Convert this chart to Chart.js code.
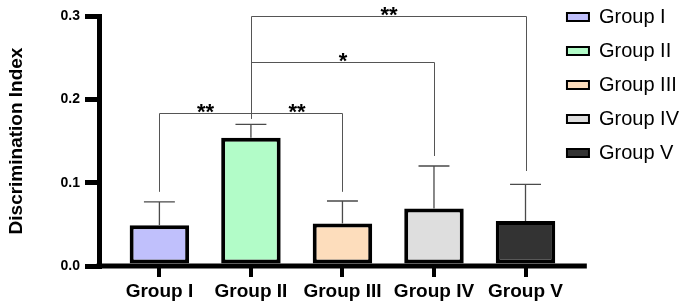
<!DOCTYPE html>
<html lang="en">
<head>
<meta charset="UTF-8">
<title>Discrimination Index</title>
<style>
    html, body { margin: 0; padding: 0; background: #fff; }
    canvas { display: block; }
</style>
</head>
<body>
<canvas id="chart" width="692" height="305"></canvas>

<script src="https://cdn.jsdelivr.net/npm/chart.js"></script>
<script>
    // values
    const groups = ['Group I', 'Group II', 'Group III', 'Group IV', 'Group V'];
    const means = [0.049, 0.154, 0.051, 0.069, 0.054];
    const sds = [0.028, 0.016, 0.027, 0.051, 0.044];
    const barColors = ['#c0c0fc', '#b2fcc8', '#fdddbc', '#dedede', '#333333'];
    const yTicks = [0, 0.1, 0.2, 0.3];

    // significance brackets: groups joined, bracket height, where each leg stops, mark
    const pairs = [[0, 1], [1, 2], [1, 3], [1, 4]];
    const pairLevels = [0.184, 0.184, 0.245, 0.30];
    const pairLegs = [[0.089, 0.177], [0.177, 0.089], [0.177, 0.132], [0.177, 0.114]];
    const pairMarks = ['**', '**', '*', '**'];

    const FONT = "'Liberation Sans', Arial, Helvetica, sans-serif";
    Chart.defaults.font.family = FONT;
    Chart.defaults.color = '#000';

    const crisp = v => Math.round(v) + 0.5;

    // error bars, brackets and the long x baseline
    const extras = {
        id: 'extras',
        afterDatasetsDraw(chart) {
            const { ctx, scales: { x, y } } = chart;
            const bars = chart.getDatasetMeta(0).data;
            ctx.save();

            // baseline runs on past the last bar, as in the original
            const y0 = y.getPixelForValue(0);
            ctx.strokeStyle = '#000';
            ctx.lineWidth = 5;
            ctx.beginPath();
            ctx.moveTo(x.left - 2.5, y0);
            ctx.lineTo(x.getPixelForValue(5.67), y0);
            ctx.stroke();

            // upper error bars
            ctx.strokeStyle = '#4a4a4a';
            ctx.lineWidth = 1.3;
            bars.forEach((bar, i) => {
                const top = y.getPixelForValue(means[i] + sds[i]);
                const half = bar.width * 0.26;
                ctx.beginPath();
                ctx.moveTo(bar.x, bar.y);
                ctx.lineTo(bar.x, top);
                ctx.moveTo(bar.x - half, top);
                ctx.lineTo(bar.x + half, top);
                ctx.stroke();
            });

            // brackets
            ctx.strokeStyle = '#555';
            ctx.lineWidth = 1;
            ctx.fillStyle = '#000';
            ctx.font = 'bold 22px ' + FONT;
            ctx.textAlign = 'center';
            ctx.textBaseline = 'alphabetic';
            pairs.forEach(([a, b], k) => {
                const xa = crisp(x.getPixelForValue(a + 1));
                const xb = crisp(x.getPixelForValue(b + 1));
                const yl = crisp(y.getPixelForValue(pairLevels[k]));
                ctx.beginPath();
                ctx.moveTo(xa, y.getPixelForValue(pairLegs[k][0]));
                ctx.lineTo(xa, yl);
                ctx.lineTo(xb, yl);
                ctx.lineTo(xb, y.getPixelForValue(pairLegs[k][1]));
                ctx.stroke();
                ctx.fillText(pairMarks[k], (xa + xb) / 2, yl + 5);
            });
            ctx.restore();
        }
    };

    const ctx = document.getElementById('chart').getContext('2d');
    new Chart(ctx, {
        type: 'bar',
        data: {
            datasets: [{
                data: groups.map((g, i) => ({ x: i + 1, y: means[i] })),
                backgroundColor: barColors,
                borderColor: '#000',
                borderWidth: 4,
                borderSkipped: false,
                categoryPercentage: 0.65,
                barPercentage: 1,
                clip: false
            }]
        },
        options: {
            responsive: false,
            animation: false,
            layout: { padding: { top: -7, right: 3, bottom: 0, left: 0 } },
            plugins: {
                // empty title only reserves the space above the plot
                title: { display: true, text: '', fullSize: false, padding: 0, font: { size: 23, lineHeight: 1 } },
                legend: {
                    position: 'right',
                    align: 'start',
                    labels: {
                        boxWidth: 22,
                        boxHeight: 8,
                        padding: 14,
                        color: '#000',
                        font: { size: 20 },
                        generateLabels: () => groups.map((g, i) => ({
                            text: g,
                            fillStyle: barColors[i],
                            strokeStyle: '#000',
                            lineWidth: 2,
                            fontColor: '#000',
                            hidden: false,
                            index: i
                        }))
                    }
                },
                tooltip: { enabled: false }
            },
            scales: {
                x: {
                    type: 'linear',
                    min: 0.34,
                    max: 5.3,
                    offset: false,
                    afterBuildTicks: s => { s.ticks = groups.map((g, i) => ({ value: i + 1 })); },
                    afterFit: s => { s.height = 39; },
                    border: { display: false },
                    grid: { offset: false, drawOnChartArea: false, tickLength: 11, lineWidth: 4, color: '#000' },
                    ticks: {
                        padding: 3,
                        color: '#000',
                        font: { size: 19, weight: 'bold' },
                        callback: v => groups[Math.round(v) - 1]
                    }
                },
                y: {
                    min: 0,
                    max: 0.3,
                    afterBuildTicks: s => { s.ticks = yTicks.map(v => ({ value: v })); },
                    afterFit: s => { s.width = 99; },
                    border: { display: true, width: 5, color: '#000' },
                    grid: { drawOnChartArea: false, tickLength: 14, lineWidth: 5, color: '#000' },
                    ticks: {
                        padding: 5,
                        color: '#000',
                        font: { size: 14, weight: 'bold' },
                        callback: v => v.toFixed(1)
                    },
                    title: {
                        display: true,
                        text: 'Discrimination Index',
                        color: '#000',
                        font: { size: 19, weight: 'bold' },
                        padding: { top: 5, bottom: 0 }
                    }
                }
            }
        },
        plugins: [extras]
    });
</script>
</body>
</html>
